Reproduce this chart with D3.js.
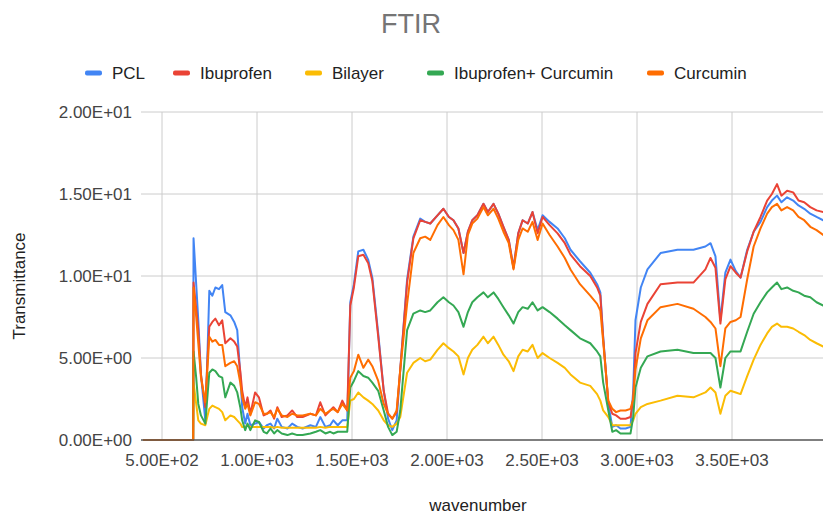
<!DOCTYPE html>
<html>
<head>
<meta charset="utf-8">
<script src="https://cdn.jsdelivr.net/npm/d3@7"></script>
<style>
	body { margin: 0; background: #fff; }
	svg { display: block; font-family: Arial, 'Liberation Sans', sans-serif; }
</style>
</head>
<body>
<svg class="chart"></svg>
<script>
const width = 823;
const height = 515;

// data
const seriesNames = ['PCL', 'Ibuprofen', 'Bilayer', 'Ibuprofen+ Curcumin', 'Curcumin'];
const seriesColors = ['#4285F4', '#EA4335', '#FBBC04', '#34A853', '#FF6D01'];

const wavenumber = [400, 664, 666, 680, 691, 705, 728, 740, 749, 765, 781, 800, 817, 833, 860, 880, 896, 912, 922, 938,
	950, 965, 990, 1010, 1035, 1052, 1071, 1090, 1107, 1130, 1160, 1185, 1212, 1240, 1281, 1310, 1333, 1360, 1385, 1402,
	1425, 1449, 1475, 1491, 1510, 1533, 1560, 1585, 1607, 1638, 1667, 1690, 1712, 1735, 1754, 1790, 1823, 1859, 1885, 1912,
	1950, 1981, 2010, 2034, 2060, 2087, 2110, 2133, 2160, 2192, 2215, 2245, 2270, 2297, 2325, 2350, 2375, 2398, 2425, 2450,
	2477, 2503, 2540, 2582, 2620, 2650, 2700, 2754, 2790, 2807, 2822, 2849, 2870, 2890, 2913, 2940, 2966, 2980, 2992, 3020,
	3055, 3124, 3213, 3297, 3360, 3387, 3413, 3439, 3465, 3492, 3520, 3545, 3580, 3614, 3650, 3685, 3710, 3737, 3760, 3790,
	3822, 3850, 3880, 3912, 3945, 3980, 4000];

const pcl = [0, 0, 12.3, 9.5, 7.3, 4.0, 1.2, 5.5, 9.1, 8.8, 9.3, 9.2, 9.45, 7.8, 7.6, 7.2, 6.7, 4.0, 2.0, 1.0,
	1.6, 0.9, 1.0, 1.1, 0.7, 0.9, 1.0, 0.7, 1.3, 0.8, 0.7, 1.0, 0.8, 0.7, 0.9, 0.8, 1.4, 0.8, 0.9, 1.2,
	0.9, 1.2, 1.2, 8.4, 9.5, 11.5, 11.6, 11.0, 9.9, 6.5, 3.0, 1.3, 0.6, 1.2, 4.3, 9.8, 12.4, 13.5, 13.3, 13.2,
	13.7, 14.1, 13.6, 13.4, 12.9, 11.4, 12.7, 13.4, 13.7, 14.4, 13.9, 14.4, 13.8, 13.0, 12.2, 10.5, 12.6, 13.4, 13.2, 13.9,
	12.8, 13.7, 13.3, 12.9, 12.3, 11.6, 10.9, 10.2, 9.5, 9.0, 6.3, 2.2, 0.8, 0.9, 0.7, 0.7, 0.8, 3.0, 7.3, 9.3,
	10.4, 11.4, 11.6, 11.6, 11.8, 12.0, 11.2, 7.3, 10.2, 11.0, 10.3, 9.9, 11.6, 12.7, 13.3, 14.2, 14.6, 14.9, 14.5, 14.8,
	14.6, 14.3, 14.1, 13.8, 13.6, 13.4, 13.3];

const ibuprofen = [0, 0, 9.6, 8.0, 6.7, 4.0, 2.0, 5.0, 6.9, 7.2, 7.4, 7.0, 7.3, 5.9, 6.2, 6.0, 5.7, 4.2, 3.0, 2.0,
	2.6, 1.6, 2.9, 2.6, 1.5, 1.6, 1.8, 1.3, 2.0, 1.4, 1.5, 1.8, 1.4, 1.4, 1.6, 1.5, 2.3, 1.5, 1.8, 2.0,
	1.7, 2.4, 1.8, 8.2, 9.3, 11.2, 11.3, 10.8, 9.7, 6.3, 3.0, 1.6, 1.3, 1.7, 4.3, 9.6, 12.3, 13.4, 13.3, 13.2,
	13.7, 14.1, 13.6, 13.4, 12.9, 11.4, 12.7, 13.4, 13.7, 14.4, 13.9, 14.4, 13.8, 13.0, 12.2, 10.5, 12.6, 13.4, 13.2, 13.9,
	12.6, 13.6, 13.1, 12.6, 12.0, 11.3, 10.6, 10.0, 9.3, 8.8, 6.2, 2.3, 1.6, 1.5, 1.3, 1.3, 1.4, 2.5, 5.3, 7.2,
	8.3, 9.5, 9.6, 9.6, 10.4, 11.1, 10.5, 7.1, 9.8, 10.6, 10.2, 9.9, 11.5, 12.7, 13.6, 14.6, 15.0, 15.6, 14.9, 15.2,
	15.1, 14.6, 14.5, 14.2, 14.0, 13.9, 13.8];

const bilayer = [0, 0, 3.5, 2.2, 1.2, 1.0, 0.9, 1.5, 1.9, 2.1, 2.0, 1.9, 1.7, 1.2, 1.5, 1.4, 1.2, 1.0, 0.8, 0.8,
	0.9, 0.8, 0.8, 0.8, 0.8, 0.8, 0.8, 0.75, 0.8, 0.75, 0.75, 0.75, 0.75, 0.75, 0.75, 0.75, 0.8, 0.75, 0.8, 0.8,
	0.8, 0.8, 0.8, 2.4, 2.5, 2.9, 2.6, 2.4, 2.2, 1.8, 1.2, 0.9, 0.8, 1.0, 1.4, 4.1, 4.7, 5.0, 4.8, 4.9,
	5.5, 5.9, 5.6, 5.4, 5.1, 4.0, 5.0, 5.5, 5.8, 6.3, 5.9, 6.3, 5.8, 5.2, 4.8, 4.2, 5.1, 5.5, 5.4, 5.8,
	5.0, 5.3, 5.0, 4.7, 4.4, 4.0, 3.5, 3.3, 2.8, 2.4, 1.8, 1.4, 0.9, 0.9, 0.9, 0.9, 0.9, 1.2, 1.6, 2.0,
	2.2, 2.4, 2.7, 2.6, 2.9, 3.2, 2.9, 1.6, 2.7, 3.0, 2.9, 2.8, 3.9, 4.9, 5.8, 6.5, 6.9, 7.1, 6.9, 6.9,
	6.8, 6.6, 6.4, 6.1, 5.9, 5.7, 5.6];

const ibuCurcumin = [0, 0, 5.4, 3.8, 2.2, 1.5, 1.0, 2.8, 4.1, 4.3, 4.2, 3.9, 3.8, 2.6, 3.5, 3.3, 2.9, 2.0, 1.2, 0.6,
	1.0, 0.6, 1.2, 1.1, 0.5, 0.4, 0.7, 0.4, 0.6, 0.4, 0.3, 0.4, 0.3, 0.3, 0.4, 0.5, 0.6, 0.4, 0.5, 0.4,
	0.5, 0.5, 0.5, 3.2, 3.6, 4.2, 3.9, 3.8, 3.5, 3.0, 1.8, 0.8, 0.3, 0.5, 1.8, 6.7, 7.7, 7.9, 7.8, 7.9,
	8.4, 8.7, 8.4, 8.2, 7.8, 6.9, 7.8, 8.4, 8.7, 9.0, 8.7, 9.0, 8.6, 8.1, 7.6, 7.1, 7.8, 8.1, 8.0, 8.4,
	7.9, 8.1, 7.8, 7.4, 7.0, 6.7, 6.2, 5.9, 5.4, 5.1, 3.5, 1.8, 0.5, 0.6, 0.4, 0.4, 0.4, 1.4, 3.2, 4.4,
	5.1, 5.4, 5.5, 5.3, 5.3, 5.3, 5.0, 3.2, 5.0, 5.4, 5.4, 5.4, 6.6, 7.7, 8.4, 9.0, 9.3, 9.6, 9.2, 9.3,
	9.1, 9.0, 8.8, 8.7, 8.4, 8.2, 8.2];

const curcumin = [0, 0, 9.3, 7.5, 5.9, 3.8, 2.3, 4.5, 6.3, 6.0, 6.1, 5.8, 5.8, 4.5, 4.7, 4.8, 4.5, 3.5, 2.6, 1.9,
	2.2, 1.5, 2.3, 2.2, 1.6, 1.6, 1.7, 1.4, 1.9, 1.5, 1.4, 1.6, 1.5, 1.5, 1.6, 1.5, 1.9, 1.6, 1.8, 1.9,
	1.7, 2.2, 1.8, 3.8, 4.2, 5.2, 4.4, 4.9, 4.5, 3.6, 2.2, 1.6, 1.3, 1.8, 4.3, 8.3, 11.4, 12.3, 12.4, 12.2,
	13.1, 13.6, 13.1, 12.8, 12.2, 10.1, 12.5, 13.2, 13.5, 14.2, 13.7, 14.1, 13.5, 12.7, 12.0, 10.4, 12.2, 12.9, 12.7, 13.3,
	12.2, 13.2, 12.5, 11.8, 11.1, 10.4, 9.5, 8.8, 8.3, 7.9, 6.0, 2.4, 1.9, 1.7, 1.8, 1.8, 1.9, 2.5, 4.3, 6.2,
	7.3, 8.1, 8.3, 8.0, 7.5, 7.2, 6.8, 4.5, 6.8, 7.2, 7.3, 7.5, 9.8, 11.8, 12.9, 13.8, 14.2, 14.4, 14.0, 14.2,
	14.0, 13.6, 13.4, 13.0, 12.8, 12.5, 12.4];

const seriesValues = [pcl, ibuprofen, bilayer, ibuCurcumin, curcumin];

const xTicks = [500, 1000, 1500, 2000, 2500, 3000, 3500];
const yTicks = [0, 5, 10, 15, 20];

const svg = d3.select('svg.chart')
	.attr('width', width)
	.attr('height', height);

const margin = { top: 112, right: -4, bottom: 75, left: 143 };
const innerWidth = width - margin.left - margin.right;
const innerHeight = height - margin.top - margin.bottom;

const x = d3.scaleLinear().domain([400, 4000]).range([margin.left, margin.left + innerWidth]);
const y = d3.scaleLinear().domain([0, 20]).range([margin.top + innerHeight, margin.top]);

// 5.00E+02 style labels
const sci = v => {
	const [m, e] = d3.format('.2e')(v).split('e');
	const sign = e[0] === '-' ? '-' : '+';
	const digits = e.replace(/[+-]/, '').padStart(2, '0');
	return `${m}E${sign}${digits}`;
};

svg.append('text')
	.attr('x', 411)
	.attr('y', 33)
	.attr('text-anchor', 'middle')
	.attr('fill', '#757575')
	.style('font-size', '27px')
	.text('FTIR');

svg.append('clipPath')
	.attr('id', 'plot-clip')
	.append('rect')
	.attr('x', margin.left - 2)
	.attr('y', margin.top - 2)
	.attr('width', innerWidth + 4)
	.attr('height', innerHeight + 4);

// gridlines
svg.selectAll('line.hgrid')
	.data(yTicks.filter(d => d > 0))
	.enter().append('line')
	.attr('class', 'hgrid')
	.attr('x1', margin.left - 2)
	.attr('x2', width)
	.attr('y1', d => y(d))
	.attr('y2', d => y(d))
	.attr('stroke', '#cccccc')
	.attr('stroke-width', 1);

svg.selectAll('line.vgrid')
	.data(xTicks)
	.enter().append('line')
	.attr('class', 'vgrid')
	.attr('x1', d => x(d))
	.attr('x2', d => x(d))
	.attr('y1', margin.top)
	.attr('y2', margin.top + innerHeight)
	.attr('stroke', '#cccccc')
	.attr('stroke-width', 1);

// tick labels
svg.selectAll('text.ytick')
	.data(yTicks)
	.enter().append('text')
	.attr('class', 'ytick')
	.attr('x', margin.left - 11)
	.attr('y', d => y(d) + 6)
	.attr('text-anchor', 'end')
	.attr('fill', '#444')
	.style('font-size', '17px')
	.text(sci);

svg.selectAll('text.xtick')
	.data(xTicks)
	.enter().append('text')
	.attr('class', 'xtick')
	.attr('x', d => x(d))
	.attr('y', margin.top + innerHeight + 26)
	.attr('text-anchor', 'middle')
	.attr('fill', '#444')
	.style('font-size', '17px')
	.text(sci);

svg.append('text')
	.attr('transform', `translate(25, ${margin.top + innerHeight / 2 + 10}) rotate(-90)`)
	.attr('text-anchor', 'middle')
	.attr('fill', '#222')
	.style('font-size', '17px')
	.text('Transmittance');

svg.append('text')
	.attr('x', 478)
	.attr('y', 511)
	.attr('text-anchor', 'middle')
	.attr('fill', '#222')
	.style('font-size', '17px')
	.text('wavenumber');

// series
const line = d3.line()
	.x(d => x(d[0]))
	.y(d => y(d[1]));

svg.append('g')
	.attr('clip-path', 'url(#plot-clip)')
	.selectAll('path')
	.data(seriesValues)
	.enter().append('path')
	.attr('fill', 'none')
	.attr('stroke', (d, i) => seriesColors[i])
	.attr('stroke-width', 2)
	.attr('stroke-linejoin', 'round')
	.attr('d', d => line(d.map((v, i) => [wavenumber[i], v])));

// zero baseline
svg.append('line')
	.attr('x1', margin.left - 2)
	.attr('x2', width)
	.attr('y1', y(0))
	.attr('y2', y(0))
	.attr('stroke', '#555')
	.attr('stroke-width', 1.5);

// legend
const legendX = [85, 173, 305, 427, 647];
const legend = svg.append('g').attr('class', 'legend');

const item = legend.selectAll('g')
	.data(seriesNames)
	.enter().append('g')
	.attr('transform', (d, i) => `translate(${legendX[i]}, 73)`);

item.append('rect')
	.attr('x', 0)
	.attr('y', -2.5)
	.attr('width', 17)
	.attr('height', 5)
	.attr('rx', 2)
	.attr('fill', (d, i) => seriesColors[i]);

item.append('text')
	.attr('x', 27)
	.attr('y', 6)
	.attr('fill', '#222')
	.style('font-size', '17px')
	.text(d => d);
</script>
</body>
</html>
